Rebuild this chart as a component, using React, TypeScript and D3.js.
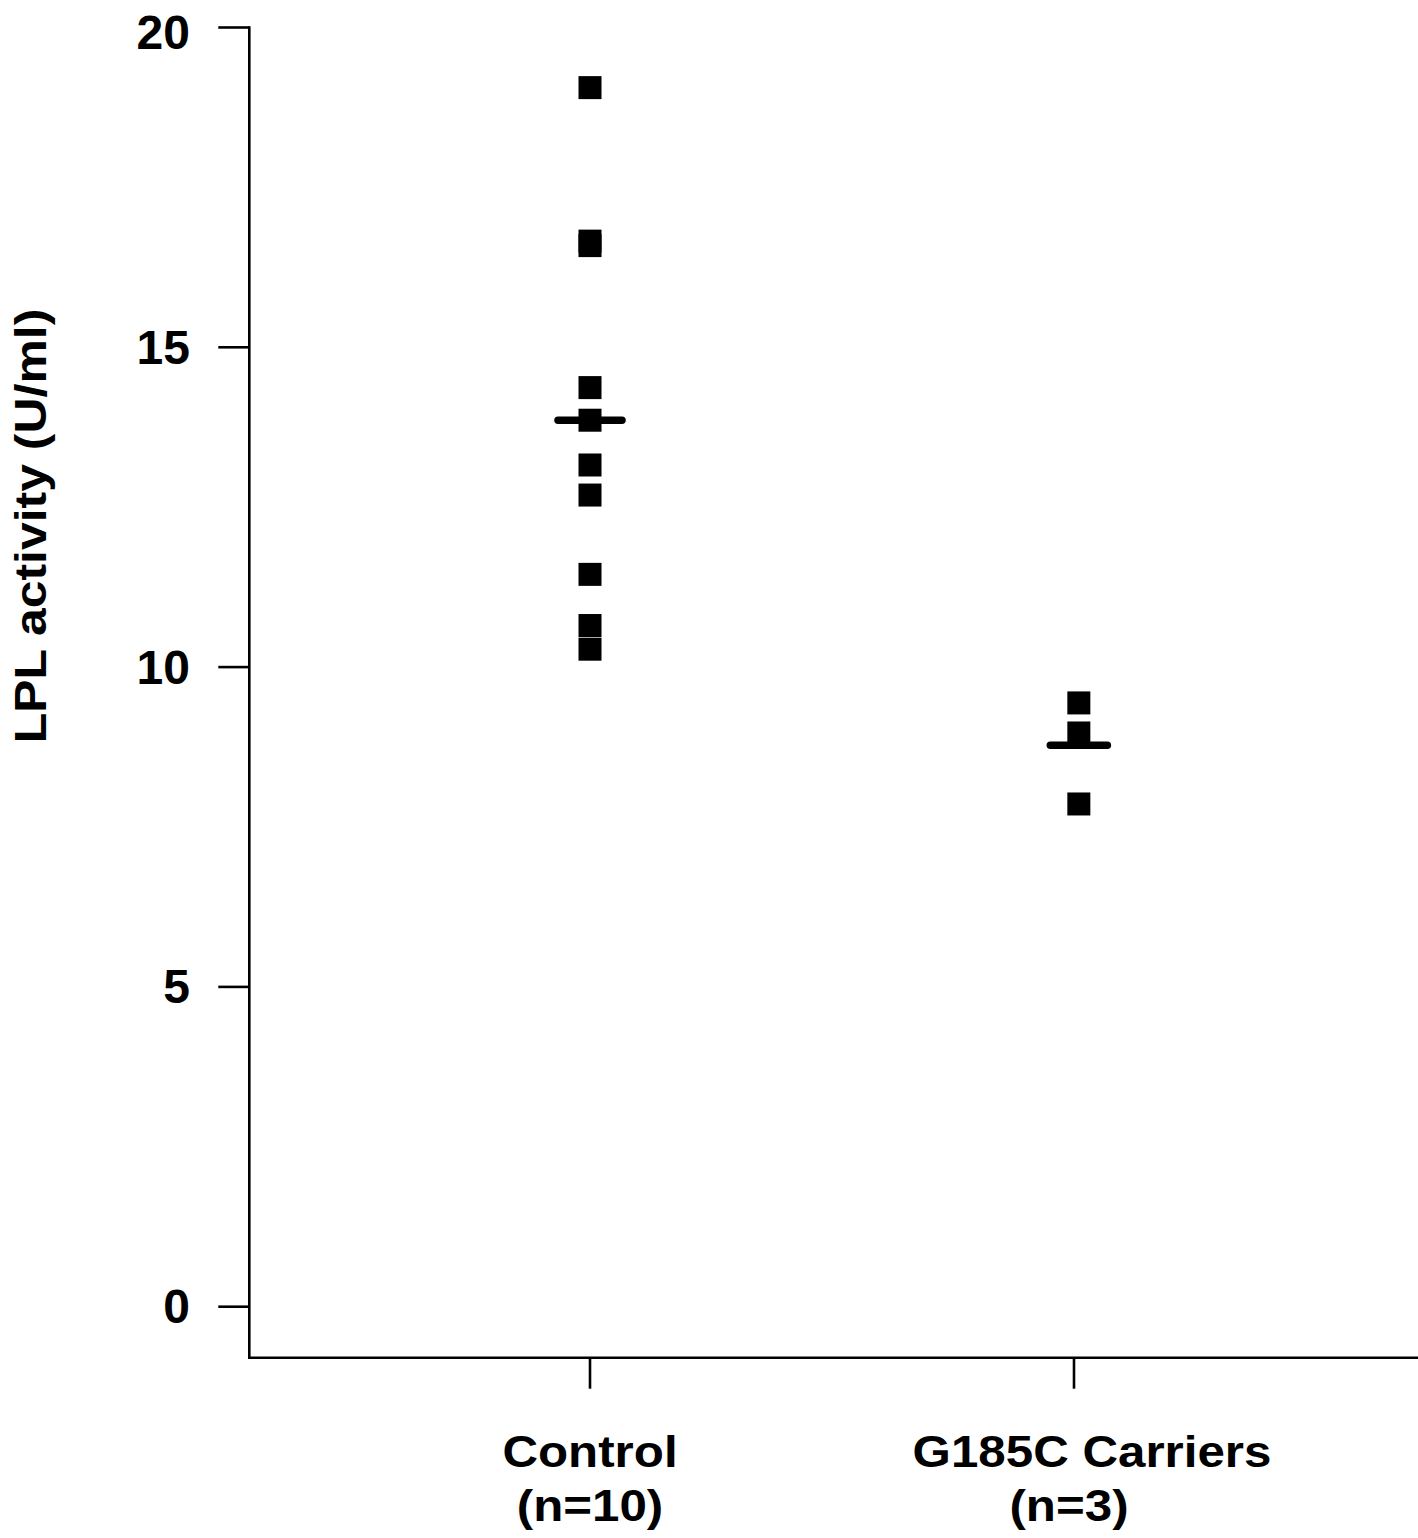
import React from "react";
import * as d3 from "d3";

const categories = ["Control", "G185C Carriers"];
const sampleSizes = ["(n=10)", "(n=3)"];
const groupPositions = [1, 2];
const pointPositions = [1, 2.01];
const controlValues = [19.06, 16.66, 16.59, 14.37, 13.86, 13.16, 12.69, 11.45, 10.65, 10.28];
const carrierValues = [9.44, 8.97, 7.86];
const meanValues = [13.86, 8.78];
const yTicks = [0, 5, 10, 15, 20];
const yLabel = "LPL activity (U/ml)";

const W = 1418;
const H = 1538;

export default function App() {
  const y = d3.scaleLinear().domain([0, 20]).range([1306.7, 27.5]);
  const x = d3.scaleLinear().domain([1, 2]).range([590, 1074]);
  const axisX = 249.3;
  const axisY = 1357.7;
  const sq = 23;
  const font = "'Liberation Sans', Arial, sans-serif";
  const groups = [controlValues, carrierValues];
  const meanHalf = [32, 28.5];
  const labelShift = [
    [0, 0],
    [18, -5],
  ];

  return (
    <svg
      width={W}
      height={H}
      style={{ position: "absolute", left: 0, top: 0, display: "block", background: "#fff" }}
      fontFamily={font}
    >
      {/* y axis */}
      <line x1={axisX} x2={axisX} y1={y(20) - 1.3} y2={axisY} stroke="#000" strokeWidth={2.6} />
      {yTicks.map((t) => (
        <g key={t}>
          <line x1={axisX - 31} x2={axisX} y1={y(t)} y2={y(t)} stroke="#000" strokeWidth={2.6} />
          <text
            x={190}
            y={Math.max(y(t), 32)}
            textAnchor="end"
            dominantBaseline="central"
            fontSize={48}
            fontWeight="bold"
          >
            {t}
          </text>
        </g>
      ))}
      {/* x axis */}
      <line x1={axisX - 1.3} x2={W} y1={axisY} y2={axisY} stroke="#000" strokeWidth={2.6} />
      {groupPositions.map((g, i) => (
        <g key={g}>
          <line x1={x(g)} x2={x(g)} y1={axisY} y2={axisY + 31} stroke="#000" strokeWidth={2.6} />
          <g transform={`translate(${x(g) + labelShift[i][0]},0) scale(1.12,1)`}>
            <text x={0} y={1467} textAnchor="middle" fontSize={44} fontWeight="bold">
              {categories[i]}
            </text>
          </g>
          <g transform={`translate(${x(g) + labelShift[i][1]},0) scale(1.12,1)`}>
            <text x={0} y={1521} textAnchor="middle" fontSize={44} fontWeight="bold">
              {sampleSizes[i]}
            </text>
          </g>
        </g>
      ))}
      {/* y label */}
      <g transform={`translate(46,526) rotate(-90) scale(1.11,1)`}>
        <text x={0} y={0} textAnchor="middle" fontSize={45} fontWeight="bold">
          {yLabel}
        </text>
      </g>
      {/* points */}
      {groups.map((vals, gi) =>
        vals.map((v, j) => (
          <rect
            key={`${gi}-${j}`}
            x={x(pointPositions[gi]) - sq / 2}
            y={y(v) - sq / 2}
            width={sq}
            height={sq}
            fill="#000"
          />
        ))
      )}
      {/* means */}
      {meanValues.map((m, i) => (
        <line
          key={i}
          x1={x(pointPositions[i]) - meanHalf[i]}
          x2={x(pointPositions[i]) + meanHalf[i]}
          y1={y(m)}
          y2={y(m)}
          stroke="#000"
          strokeWidth={7.5}
          strokeLinecap="round"
        />
      ))}
    </svg>
  );
}
